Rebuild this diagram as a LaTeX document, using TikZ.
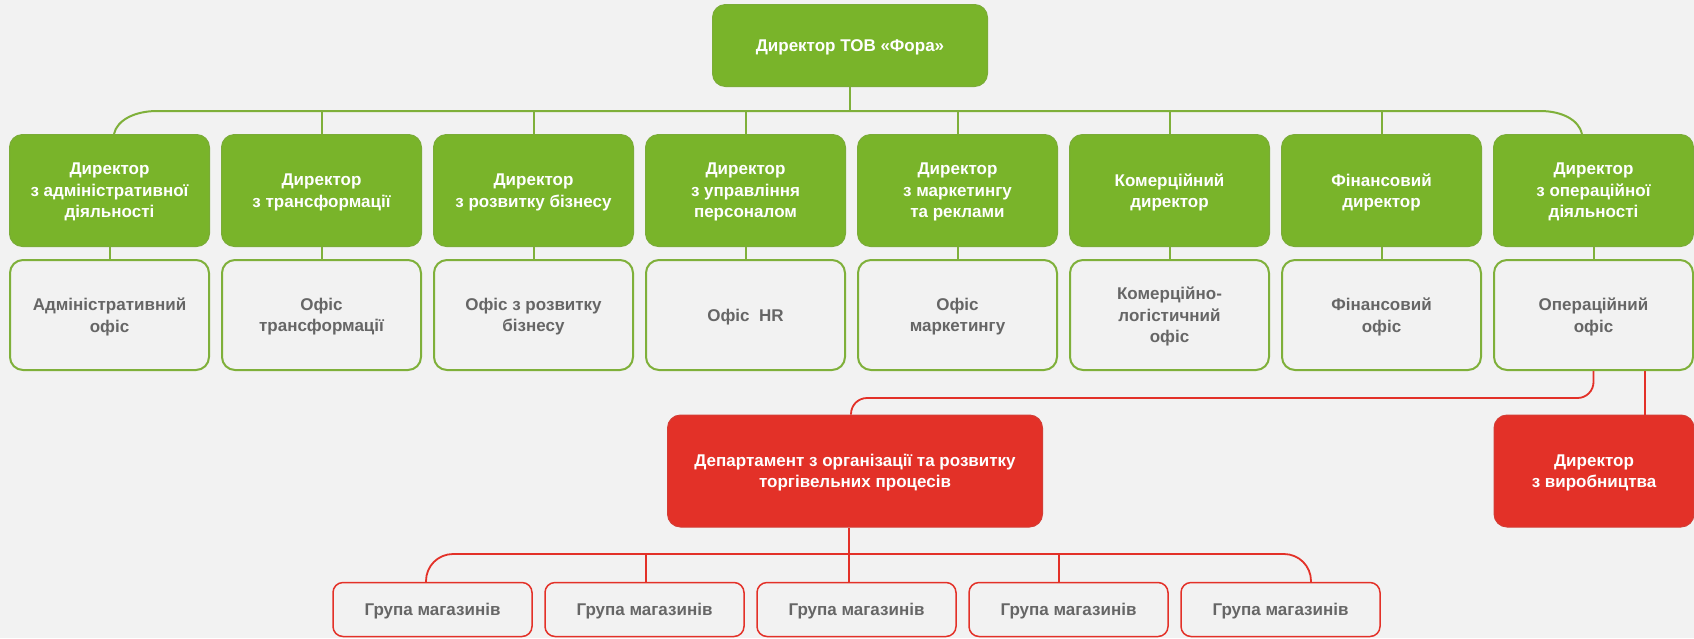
\documentclass[tikz,border=0pt]{standalone}
\usepackage{fontspec}
\setmainfont{Liberation Sans}
\definecolor{fgreen}{HTML}{79B42A}
\definecolor{lgreen}{HTML}{7FB03A}
\definecolor{fred}{HTML}{E33128}
\definecolor{bgc}{HTML}{F2F2F2}
\definecolor{tgray}{HTML}{666666}
\tikzset{
  every node/.style={font=\bfseries\fontsize{17}{21.5}\selectfont, align=center, inner sep=0pt, text depth=0pt},
  dirbox/.style={rectangle, rounded corners=13pt, fill=fgreen, draw=fgreen!85!gray, line width=1pt, text=white, minimum width=200pt, minimum height=112pt},
  topbox/.style={dirbox, minimum width=275pt, minimum height=82pt},
  offbox/.style={rectangle, rounded corners=13pt, fill=bgc, draw=lgreen, line width=2pt, text=tgray, minimum width=199pt, minimum height=110pt},
  redbox/.style={rectangle, rounded corners=13pt, fill=fred, draw=fred!85!gray, line width=1pt, text=white, minimum height=112pt},
  grpbox/.style={rectangle, rounded corners=10pt, fill=bgc, draw=fred, line width=1.5pt, text=tgray, minimum width=199pt, minimum height=54pt},
  gline/.style={draw=lgreen, line width=2pt},
  rline/.style={draw=fred, line width=1.8pt}
}
\begin{document}
\begin{tikzpicture}[x=1pt,y=-1pt]
\fill[bgc] (0,0) rectangle (1694,638);
\useasboundingbox (0,0) rectangle (1694,638);

\node[topbox] (top) at (850,45.5) {Директор ТОВ «Фора»};

\node[dirbox] (d1) at (109.5,190.5) {Директор\\з адміністративної\\діяльності};
\node[dirbox] (d2) at (321.5,190.5) {Директор\\з трансформації};
\node[dirbox] (d3) at (533.5,190.5) {Директор\\з розвитку бізнесу};
\node[dirbox] (d4) at (745.5,190.5) {Директор\\з управління\\персоналом};
\node[dirbox] (d5) at (957.5,190.5) {Директор\\з маркетингу\\та реклами};
\node[dirbox] (d6) at (1169.5,190.5) {Комерційний\\директор};
\node[dirbox] (d7) at (1381.5,190.5) {Фінансовий\\директор};
\node[dirbox] (d8) at (1593.5,190.5) {Директор\\з операційної\\діяльності};

\node[offbox] (o1) at (109.5,315) {Адміністративний\\офіс};
\node[offbox] (o2) at (321.5,315) {Офіс\\трансформації};
\node[offbox] (o3) at (533.5,315) {Офіс з розвитку\\бізнесу};
\node[offbox] (o4) at (745.5,315) {Офіс\ \ HR};
\node[offbox] (o5) at (957.5,315) {Офіс\\маркетингу};
\node[offbox] (o6) at (1169.5,315) {Комерційно-\\логістичний\\офіс};
\node[offbox] (o7) at (1381.5,315) {Фінансовий\\офіс};
\node[offbox] (o8) at (1593.5,315) {Операційний\\офіс};

\node[redbox, minimum width=375pt] (dept) at (855,471) {Департамент з організації та розвитку\\торгівельних процесів};
\node[redbox, minimum width=200pt] (prod) at (1594,471) {Директор\\з виробництва};

\node[grpbox] (g1) at (432.5,609.5) {Група магазинів};
\node[grpbox] (g2) at (644.5,609.5) {Група магазинів};
\node[grpbox] (g3) at (856.5,609.5) {Група магазинів};
\node[grpbox] (g4) at (1068.5,609.5) {Група магазинів};
\node[grpbox] (g5) at (1280.5,609.5) {Група магазинів};

% top bus
\coordinate (busT) at (0,111);
\draw[gline] (top.south) -- (top.south |- busT);
\draw[gline] ([xshift=4.5pt]d1.north) .. controls +(3,-14) and +(-22,0) .. ([xshift=47.5pt]d1.north |- busT)
  -- ([xshift=-53.5pt]d8.north |- busT) .. controls +(22,0) and +(-3,-14) .. ([xshift=-11.5pt]d8.north);
\foreach \k in {2,...,7} {
  \draw[gline] (d\k.north) -- (d\k.north |- busT);
}
\foreach \k in {1,...,8} {
  \draw[gline] (d\k.south) -- (o\k.north);
}

% operations links
\coordinate (busO) at (0,398);
\draw[rline, rounded corners=16pt] (o8.south) -- (o8.south |- busO) -- ([xshift=-4pt]dept.north |- busO) -- ([xshift=-4pt]dept.north);
\draw[rline] ([xshift=51.5pt]o8.south) -- ([xshift=51.5pt]o8.south |- prod.north);

% store groups
\coordinate (busG) at (0,554);
\draw[rline] ([xshift=-6pt]dept.south) -- ([xshift=-6pt]dept.south |- g3.north);
\draw[rline, rounded corners=27pt] ([xshift=-6.5pt]g1.north) -- ([xshift=-6.5pt]g1.north |- busG)
  -- ([xshift=30.5pt]g5.north |- busG) -- ([xshift=30.5pt]g5.north);
\draw[rline] ([xshift=1.5pt]g2.north |- busG) -- ([xshift=1.5pt]g2.north);
\draw[rline] ([xshift=-9.5pt]g4.north |- busG) -- ([xshift=-9.5pt]g4.north);
\end{tikzpicture}
\end{document}
